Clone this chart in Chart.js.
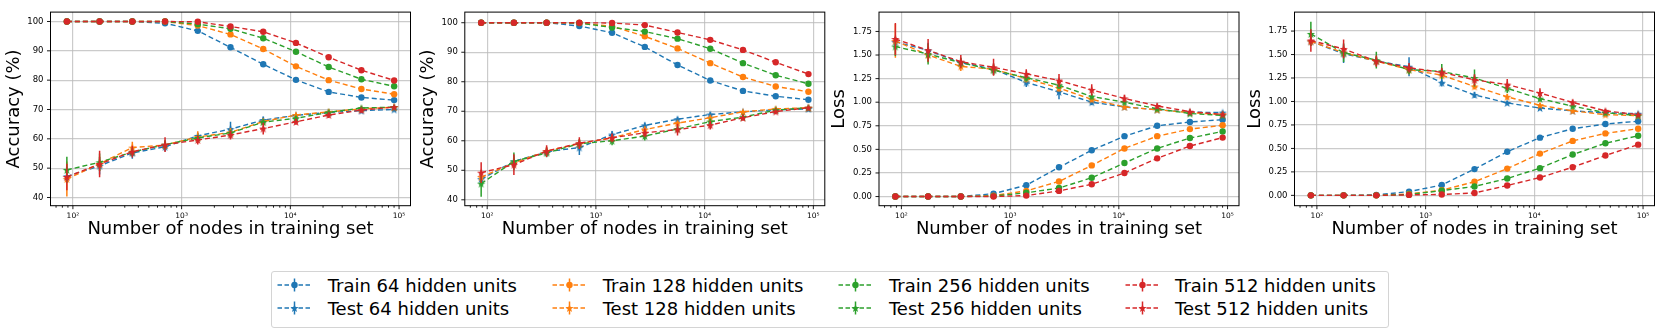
<!DOCTYPE html>
<html>
<head>
<meta charset="utf-8">
<script src="https://cdn.jsdelivr.net/npm/chart.js@4.4.1/dist/chart.umd.min.js"></script>
<style>
  html, body { margin: 0; padding: 0; background: #fff; }
  #fig { position: relative; width: 1661px; height: 335px; overflow: hidden; font-family: "DejaVu Sans", sans-serif; }
  #fig canvas { position: absolute; top: 0; }
  #legendBox { position: absolute; left: 270.5px; top: 270.5px; width: 1118px; height: 57px; border: 1px solid #d4d4d4; border-radius: 3px; box-sizing: border-box; }
  .lg { position: absolute; }
  .lg span { position: absolute; white-space: nowrap; font-size: 18px; line-height: 21.6px; color: #000; }
</style>
</head>
<body>
<div id="fig">
  <canvas id="acc1" width="415" height="242" style="left:0px"></canvas>
  <canvas id="acc2" width="414" height="242" style="left:415px"></canvas>
  <canvas id="loss1" width="418" height="242" style="left:825px"></canvas>
  <canvas id="loss2" width="421" height="242" style="left:1240px"></canvas>
  <div id="legendBox"></div>
</div>
<script>
// training set sizes (x axis)
const nodes = [88, 176, 352, 704, 1408, 2816, 5632, 11264, 22528, 45056, 90112];
const hiddenUnits = [64, 128, 256, 512];
const colors = ["#1f77b4", "#ff7f0e", "#2ca02c", "#d62728"];

const accTicks = [40, 50, 60, 70, 80, 90, 100];
const lossTicks = [0, 0.25, 0.5, 0.75, 1.0, 1.25, 1.5, 1.75];
const xMajorTicks = [100, 1000, 10000, 100000];
const xTickLabels = ["10²", "10³", "10⁴", "10⁵"];

// panel 1 - accuracy
const p1Train64 = [100, 100, 100, 99.4, 96.8, 91.2, 85.4, 80.1, 76.0, 74.1, 73.2];
const p1Train128 = [100, 100, 100, 100, 98.6, 95.6, 90.6, 84.7, 80.0, 77.0, 75.2];
const p1Train256 = [100, 100, 100, 100, 99.1, 97.5, 94.3, 89.7, 84.5, 80.3, 77.9];
const p1Train512 = [100, 100, 100, 100, 99.9, 98.3, 96.5, 92.7, 87.8, 83.4, 79.9];
const p1Test64 = [47.2, 50.8, 55.2, 57.3, 61.0, 63.3, 66.4, 68.0, 69.0, 69.6, 70.0];
const p1Test128 = [46.3, 51.5, 57.0, 57.9, 60.6, 62.2, 65.9, 68.1, 69.2, 70.2, 70.8];
const p1Test256 = [49.4, 52.0, 55.5, 58.0, 60.3, 62.0, 65.7, 67.0, 69.0, 70.5, 70.8];
const p1Test512 = [47.0, 51.4, 55.6, 58.0, 59.6, 61.3, 63.5, 65.8, 68.1, 69.8, 70.8];
const p1Err64 = [1.5, 3, 2, 1.5, 1, 2.5, 1.2, 0.8, 0.8, 0.6, 0.5];
const p1Err128 = [6, 2.5, 2, 1.5, 2, 1.5, 1, 0.8, 0.8, 0.5, 0.4];
const p1Err256 = [4.5, 3, 1.5, 1.5, 1, 1, 1, 0.8, 0.6, 0.5, 0.4];
const p1Err512 = [4.5, 4.5, 2, 2.5, 1.5, 1.5, 2, 1, 1, 0.8, 0.6];

// panel 2 - accuracy
const p2Train64 = [100, 100, 100, 98.9, 96.6, 91.8, 85.7, 80.4, 76.9, 75.1, 73.9];
const p2Train128 = [100, 100, 100, 99.9, 98.8, 95.4, 91.3, 86.3, 81.6, 78.4, 76.6];
const p2Train256 = [100, 100, 100, 99.9, 98.4, 97.0, 94.6, 91.2, 86.3, 82.2, 79.3];
const p2Train512 = [100, 100, 100, 100, 99.9, 99.2, 96.7, 94.2, 90.8, 86.6, 82.6];
const p2Test64 = [47.0, 53.0, 56.3, 57.7, 62.1, 65.2, 67.3, 68.9, 69.8, 70.5, 70.8];
const p2Test128 = [47.7, 52.5, 56.5, 59.0, 61.0, 63.8, 66.0, 67.8, 69.8, 70.8, 71.2];
const p2Test256 = [45.5, 53.0, 55.9, 59.0, 60.0, 61.6, 64.0, 66.5, 68.0, 70.4, 71.2];
const p2Test512 = [49.2, 51.9, 56.5, 59.2, 61.0, 62.7, 63.8, 65.3, 67.8, 69.9, 71.2];
const p2Err64 = [1.5, 2, 1.5, 2.5, 1.2, 1, 0.8, 0.8, 0.6, 0.5, 0.4];
const p2Err128 = [1.5, 2, 1.5, 1.5, 1, 1, 0.8, 0.8, 0.6, 0.5, 0.4];
const p2Err256 = [4.5, 3, 1.5, 1.5, 1.5, 1.5, 1, 1, 1, 0.6, 0.5];
const p2Err512 = [3.5, 3.5, 2, 2, 1.5, 1.5, 2, 1.5, 1, 0.8, 0.6];

// panel 3 - loss
const p3Train64 = [0, 0, 0, 0.03, 0.12, 0.31, 0.49, 0.64, 0.75, 0.79, 0.815];
const p3Train128 = [0, 0, 0, 0.01, 0.06, 0.16, 0.33, 0.51, 0.64, 0.715, 0.755];
const p3Train256 = [0, 0, 0, 0.005, 0.04, 0.09, 0.2, 0.355, 0.51, 0.62, 0.69];
const p3Train512 = [0, 0, 0, 0, 0.01, 0.06, 0.13, 0.25, 0.405, 0.535, 0.625];
const p3Test64 = [1.64, 1.55, 1.42, 1.35, 1.21, 1.11, 1.0, 0.95, 0.92, 0.895, 0.89];
const p3Test128 = [1.65, 1.5, 1.38, 1.35, 1.25, 1.15, 1.03, 0.95, 0.92, 0.89, 0.87];
const p3Test256 = [1.59, 1.51, 1.42, 1.34, 1.26, 1.18, 1.06, 1.0, 0.93, 0.88, 0.86];
const p3Test512 = [1.67, 1.55, 1.43, 1.37, 1.3, 1.23, 1.13, 1.04, 0.96, 0.9, 0.87];
const p3Err64 = [0.05, 0.08, 0.05, 0.06, 0.05, 0.08, 0.03, 0.02, 0.02, 0.02, 0.01];
const p3Err128 = [0.18, 0.08, 0.05, 0.06, 0.04, 0.04, 0.03, 0.02, 0.02, 0.01, 0.01];
const p3Err256 = [0.1, 0.11, 0.05, 0.05, 0.04, 0.04, 0.03, 0.02, 0.02, 0.01, 0.01];
const p3Err512 = [0.17, 0.12, 0.07, 0.09, 0.05, 0.07, 0.06, 0.04, 0.03, 0.02, 0.02];

// panel 4 - loss
const p4Train64 = [0, 0, 0.005, 0.04, 0.11, 0.28, 0.465, 0.615, 0.71, 0.76, 0.79];
const p4Train128 = [0, 0, 0, 0.015, 0.055, 0.145, 0.285, 0.445, 0.58, 0.66, 0.71];
const p4Train256 = [0, 0, 0, 0.01, 0.05, 0.095, 0.18, 0.29, 0.435, 0.555, 0.635];
const p4Train512 = [0, 0, 0, 0.005, 0.01, 0.025, 0.105, 0.19, 0.3, 0.425, 0.54];
const p4Test64 = [1.64, 1.51, 1.43, 1.37, 1.2, 1.07, 0.985, 0.93, 0.9, 0.88, 0.87];
const p4Test128 = [1.64, 1.52, 1.43, 1.34, 1.28, 1.16, 1.05, 0.96, 0.9, 0.86, 0.85];
const p4Test256 = [1.72, 1.52, 1.44, 1.34, 1.32, 1.25, 1.14, 1.03, 0.95, 0.88, 0.85];
const p4Test512 = [1.65, 1.56, 1.43, 1.36, 1.31, 1.23, 1.18, 1.09, 0.99, 0.9, 0.86];
const p4Err64 = [0.05, 0.1, 0.05, 0.1, 0.04, 0.03, 0.02, 0.02, 0.02, 0.01, 0.01];
const p4Err128 = [0.05, 0.06, 0.05, 0.05, 0.04, 0.03, 0.03, 0.02, 0.02, 0.01, 0.01];
const p4Err256 = [0.13, 0.1, 0.09, 0.05, 0.08, 0.09, 0.05, 0.03, 0.02, 0.02, 0.01];
const p4Err512 = [0.12, 0.1, 0.06, 0.05, 0.05, 0.06, 0.06, 0.05, 0.03, 0.02, 0.01];

const panels = [
  { id: "acc1", yw: 50.5, padR: 4.5, titlePad: 4, ymin: 37.2, ymax: 103.2, yTicks: accTicks, title: "Accuracy (%)", fmt: (v) => String(v),
    train: [p1Train64, p1Train128, p1Train256, p1Train512], test: [p1Test64, p1Test128, p1Test256, p1Test512], err: [p1Err64, p1Err128, p1Err256, p1Err512] },
  { id: "acc2", yw: 49.8, padR: 4.2, titlePad: 3, ymin: 38.0, ymax: 103.6, yTicks: accTicks, title: "Accuracy (%)", fmt: (v) => String(v),
    train: [p2Train64, p2Train128, p2Train256, p2Train512], test: [p2Test64, p2Test128, p2Test256, p2Test512], err: [p2Err64, p2Err128, p2Err256, p2Err512] },
  { id: "loss1", yw: 54, padR: 4, titlePad: 3.9, ymin: -0.097, ymax: 1.955, yTicks: lossTicks, title: "Loss", fmt: (v) => v.toFixed(2),
    train: [p3Train64, p3Train128, p3Train256, p3Train512], test: [p3Test64, p3Test128, p3Test256, p3Test512], err: [p3Err64, p3Err128, p3Err256, p3Err512] },
  { id: "loss2", yw: 54.5, padR: 6.5, titlePad: 4.2, ymin: -0.11, ymax: 1.952, yTicks: lossTicks, title: "Loss", fmt: (v) => v.toFixed(2),
    train: [p4Train64, p4Train128, p4Train256, p4Train512], test: [p4Test64, p4Test128, p4Test256, p4Test512], err: [p4Err64, p4Err128, p4Err256, p4Err512] }
];

const xMin = nodes[0] / Math.SQRT2;
const xMax = nodes[nodes.length - 1] * Math.SQRT2;
const gridColor = "rgba(185,185,185,0.75)";

function isPow10(v) {
  const l = Math.log10(v);
  return Math.abs(l - Math.round(l)) < 1e-9;
}

// log axis tick positions: 1..9 x 10^n inside the range
const xTickValues = [];
for (let e = 1; e <= 5; e++) {
  for (let m = 1; m <= 9; m++) {
    const v = m * Math.pow(10, e);
    if (v >= xMin && v <= xMax) xTickValues.push(v);
  }
}

function starImage(color) {
  const c = document.createElement("canvas");
  const s = 10;
  c.width = s; c.height = s;
  const g = c.getContext("2d");
  g.fillStyle = color;
  g.beginPath();
  for (let i = 0; i < 10; i++) {
    const r = i % 2 === 0 ? 4.3 : 1.8;
    const a = -Math.PI / 2 + i * Math.PI / 5;
    const px = s / 2 + r * Math.cos(a);
    const py = s / 2 + 0.4 + r * Math.sin(a);
    if (i === 0) g.moveTo(px, py); else g.lineTo(px, py);
  }
  g.closePath();
  g.fill();
  return c;
}

const framePlugin = {
  id: "frame",
  beforeDatasetDraw(chart, args) {
    const ds = chart.data.datasets[args.index];
    if (!ds.errors) return;
    const ctx = chart.ctx;
    const y = chart.scales.y;
    ctx.save();
    ctx.strokeStyle = ds.borderColor;
    ctx.lineWidth = 1.5;
    ctx.beginPath();
    args.meta.data.forEach((pt, i) => {
      const v = ds.data[i].y;
      const e = ds.errors[i];
      ctx.moveTo(pt.x, y.getPixelForValue(v + e));
      ctx.lineTo(pt.x, y.getPixelForValue(v - e));
    });
    ctx.stroke();
    ctx.restore();
  },
  afterDatasetsDraw(chart) {
    const { ctx, chartArea: a, scales } = chart;
    ctx.save();
    ctx.strokeStyle = "#000";
    ctx.lineWidth = 0.9;
    ctx.beginPath();
    scales.x.ticks.forEach((t) => {
      const px = scales.x.getPixelForValue(t.value);
      const len = isPow10(t.value) ? 3.5 : 2;
      ctx.moveTo(px, a.bottom);
      ctx.lineTo(px, a.bottom + len);
    });
    scales.y.ticks.forEach((t) => {
      const py = scales.y.getPixelForValue(t.value);
      ctx.moveTo(a.left, py);
      ctx.lineTo(a.left - 3.5, py);
    });
    ctx.stroke();
    ctx.lineWidth = 1;
    ctx.strokeRect(a.left, a.top, a.right - a.left, a.bottom - a.top);
    ctx.restore();
  }
};

function points(values) {
  return values.map((v, i) => ({ x: nodes[i], y: v }));
}

function buildPanel(p) {
  const datasets = [];
  hiddenUnits.forEach((h, k) => {
    datasets.push({
      label: "Train " + h + " hidden units",
      data: points(p.train[k]),
      borderColor: colors[k],
      backgroundColor: colors[k],
      pointStyle: "circle",
      pointRadius: 3.2,
      pointBorderWidth: 0
    });
    datasets.push({
      label: "Test " + h + " hidden units",
      data: points(p.test[k]),
      errors: p.err[k],
      borderColor: colors[k],
      backgroundColor: colors[k],
      pointStyle: starImage(colors[k]),
      pointRadius: 4,
      pointBorderWidth: 0
    });
  });
  datasets.forEach((d, i) => {
    d.order = datasets.length - i;
    d.borderWidth = 1.4;
    d.borderDash = [5, 3];
    d.tension = 0;
    d.fill = false;
  });

  new Chart(document.getElementById(p.id), {
    type: "line",
    data: { datasets },
    options: {
      responsive: false,
      animation: false,
      devicePixelRatio: 1,
      layout: { padding: { top: 6, right: p.padR, left: 0, bottom: 0 } },
      plugins: { legend: { display: false }, tooltip: { enabled: false } },
      scales: {
        x: {
          type: "logarithmic",
          min: xMin,
          max: xMax,
          afterBuildTicks: (s) => { s.ticks = xTickValues.map((v) => ({ value: v })); },
          afterFit: (s) => { s.height = 36.3; },
          border: { display: false },
          grid: {
            drawTicks: false,
            lineWidth: 1.2,
            color: (c) => (c.tick && isPow10(c.tick.value) ? gridColor : "rgba(0,0,0,0)")
          },
          ticks: {
            autoSkip: false,
            maxRotation: 0,
            minRotation: 0,
            padding: 5.5,
            color: "#000",
            font: { family: "DejaVu Sans", size: 7.5 },
            callback: (v) => {
              const i = xMajorTicks.findIndex((m) => Math.abs(m - v) < 1e-6);
              return i >= 0 ? xTickLabels[i] : "";
            }
          },
          title: {
            display: true,
            text: "Number of nodes in training set",
            color: "#000",
            font: { family: "DejaVu Sans", size: 18 },
            padding: { top: 0, bottom: 2.2 }
          }
        },
        y: {
          type: "linear",
          min: p.ymin,
          max: p.ymax,
          afterBuildTicks: (s) => { s.ticks = p.yTicks.map((v) => ({ value: v })); },
          afterFit: (s) => { s.width = p.yw; },
          border: { display: false },
          grid: { drawTicks: false, lineWidth: 1.2, color: gridColor },
          ticks: {
            padding: 7,
            color: "#000",
            font: { family: "DejaVu Sans", size: 8.5 },
            callback: (v) => p.fmt(v)
          },
          title: {
            display: true,
            text: p.title,
            color: "#000",
            font: { family: "DejaVu Sans", size: 18 },
            padding: { top: p.titlePad, bottom: 0 }
          }
        }
      }
    },
    plugins: [framePlugin]
  });
}

function handleSvg(color, isTrain) {
  const marker = isTrain
    ? `<circle cx="17.5" cy="11" r="3.2" fill="${color}"/>`
    : `<polygon fill="${color}" points="${starPoints(17.5, 11.4)}"/>`;
  return `<svg width="36" height="22" style="position:absolute;left:0;top:0">` +
    `<line x1="0.5" y1="11" x2="35" y2="11" stroke="${color}" stroke-width="1.4" stroke-dasharray="4.5 2.5"/>` +
    `<line x1="17.5" y1="4.5" x2="17.5" y2="17.5" stroke="${color}" stroke-width="1.5"/>` +
    marker + `</svg>`;
}

function starPoints(cx, cy) {
  const pts = [];
  for (let i = 0; i < 10; i++) {
    const r = i % 2 === 0 ? 4.3 : 1.8;
    const a = -Math.PI / 2 + i * Math.PI / 5;
    pts.push((cx + r * Math.cos(a)).toFixed(2) + "," + (cy + r * Math.sin(a)).toFixed(2));
  }
  return pts.join(" ");
}

function buildLegend() {
  const fig = document.getElementById("fig");
  const textLeft = [327.7, 602.7, 888.9, 1175.1];
  const rowMid = [285, 308.3];
  hiddenUnits.forEach((h, k) => {
    ["Train", "Test"].forEach((kind, r) => {
      const el = document.createElement("div");
      el.className = "lg";
      el.style.left = (textLeft[k] - 50.5) + "px";
      el.style.top = (rowMid[r] - 11) + "px";
      el.innerHTML = handleSvg(colors[k], kind === "Train") +
        `<span style="left:50.5px;top:0.5px">${kind} ${h} hidden units</span>`;
      fig.appendChild(el);
    });
  });
}

panels.forEach(buildPanel);
buildLegend();
</script>
</body>
</html>
